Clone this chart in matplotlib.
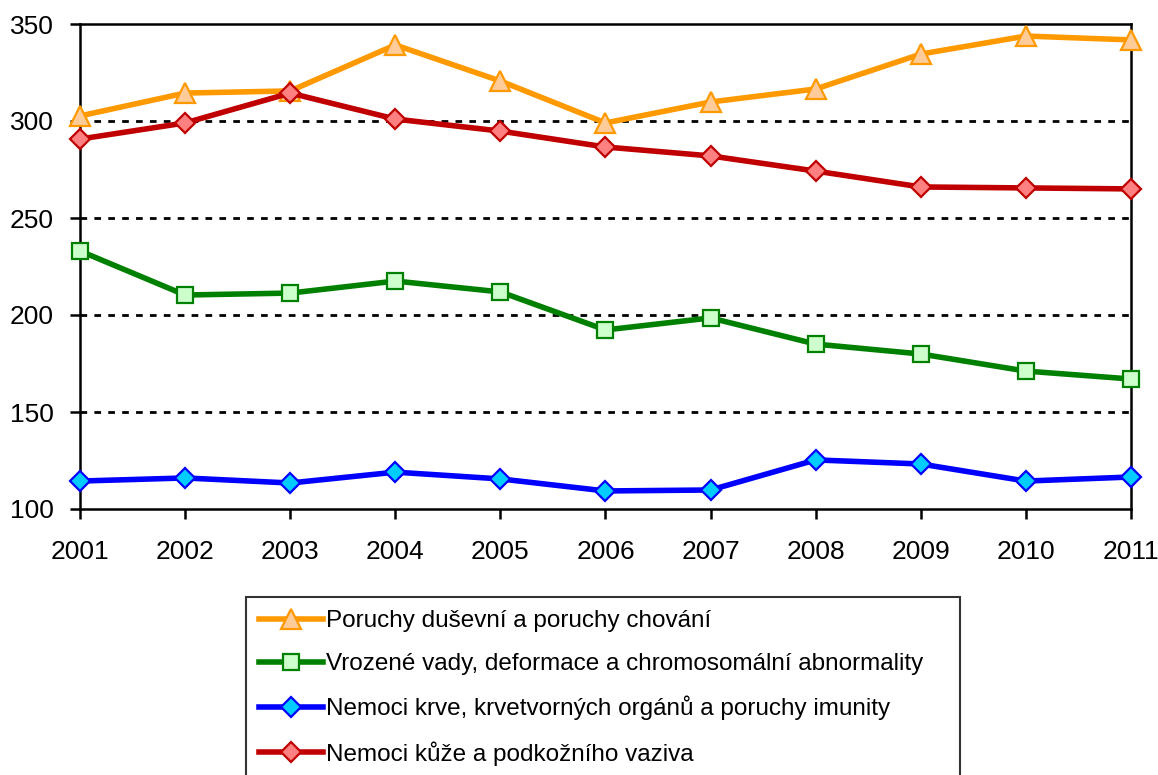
import matplotlib
matplotlib.use("Agg")
import matplotlib.pyplot as plt

# ── DATA ──────────────────────────────────────────────────────────────────────
years = [2001, 2002, 2003, 2004, 2005, 2006, 2007, 2008, 2009, 2010, 2011]

poruchy_dusevni = [302.6, 314.4, 315.5, 339.2, 320.6, 299.0, 309.8, 316.5, 334.5, 343.8, 341.8]
vrozene_vady    = [233.0, 210.3, 211.3, 217.5, 211.9, 192.3, 198.5, 185.0, 179.9, 171.1, 167.0]
nemoci_krve     = [114.4, 116.0, 113.4, 119.0, 115.5, 109.3, 109.8, 125.3, 123.2, 114.4, 116.5]
nemoci_kuze     = [290.7, 299.0, 314.4, 301.0, 294.8, 286.6, 282.0, 274.2, 266.0, 265.5, 265.0]

labels = ["Poruchy duševní a poruchy chování",
          "Vrozené vady, deformace a chromosomální abnormality",
          "Nemoci krve, krvetvorných orgánů a poruchy imunity",
          "Nemoci kůže a podkožního vaziva"]

plt.rcParams["font.family"] = ["Liberation Sans Narrow", "Liberation Sans", "DejaVu Sans"]

fig = plt.figure(figsize=(11.58, 7.75), dpi=100)
ax = fig.add_axes([80 / 1158, 1 - 509 / 775, 1051 / 1158, 485 / 775])

# (values, line colour, marker face, marker, marker size)
styles = [
    (poruchy_dusevni, "#FF9900", "#FFCC99", "^", 14),
    (vrozene_vady,    "#008000", "#CCFFCC", "s", 11),
    (nemoci_krve,     "#0000FF", "#00CCFF", "D", 10),
    (nemoci_kuze,     "#C00000", "#FF8080", "D", 10),
]
for (vals, lc, fc, mk, ms), lab in zip(styles, labels):
    ax.plot(years, vals, color=lc, lw=4, marker=mk, ms=ms, mfc=fc, mec=lc,
            mew=1.6, label=lab, zorder=3, clip_on=False)

ax.set_xlim(2001, 2011)
ax.set_ylim(100, 350)
ax.set_xticks(years)
ax.set_yticks([100, 150, 200, 250, 300, 350])
for y in [150, 200, 250, 300]:
    ax.axhline(y, color="black", lw=2.0, ls=(0, (2.4, 2.6)), zorder=1)

for s in ax.spines.values():
    s.set_linewidth(1.8)
    s.set_color("black")

ax.tick_params(axis="both", direction="out", length=7, width=1.8, labelsize=19)
ax.tick_params(axis="x", pad=15)
ax.tick_params(axis="y", pad=12)

leg = fig.legend(loc="upper left",
                 bbox_to_anchor=(246 / 1158, 0, 714 / 1158, 1 - 597 / 775),
                 mode="expand", frameon=True, fancybox=False, edgecolor="black",
                 fontsize=17.5, handlelength=2.6, handletextpad=0.13,
                 labelspacing=0.85, borderpad=0.55, borderaxespad=0)
leg.get_frame().set_linewidth(1.5)

fig.savefig("out.png", dpi=100)
